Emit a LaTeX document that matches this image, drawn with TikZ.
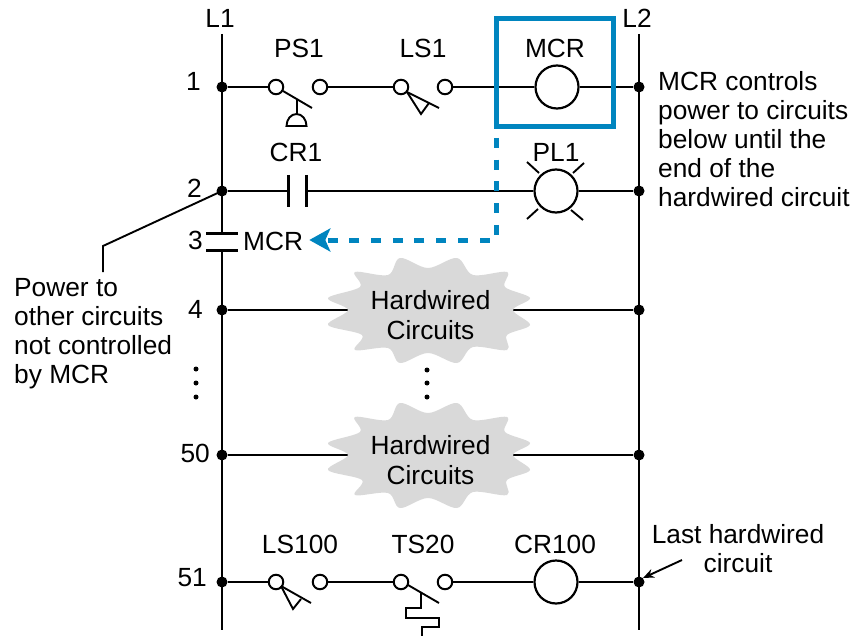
\documentclass[tikz,border=0pt]{standalone}
\usepackage{fontspec}
\setmainfont{Liberation Sans}
\usetikzlibrary{arrows.meta}
\definecolor{mcrblue}{HTML}{0085BF}
\definecolor{stargray}{HTML}{D9D9D9}
\pgfdeclarelayer{wires}
\pgfdeclarelayer{stars}
\pgfsetlayers{wires,stars,main}
\tikzset{
  wire/.style={line width=2.2pt,line join=miter},
  thin wire/.style={line width=1.9pt},
  lbl/.style={anchor=base,inner sep=0pt,font=\fontsize{26.3}{29}\selectfont},
  para/.style={anchor=north west,inner sep=0pt,align=left,font=\fontsize{26.3}{29}\selectfont},
  hwtext/.style={inner sep=0pt,align=center,font=\fontsize{26.3}{29.5}\selectfont},
  junction/.style={circle,fill=black,inner sep=0pt,minimum size=11pt},
  term/.style={circle,draw,line width=2pt,fill=white,inner sep=0pt,minimum size=14.5pt},
  coilc/.style={circle,draw,line width=2.2pt,fill=white,inner sep=0pt,minimum size=43pt},
  tinydot/.style={circle,fill=black,inner sep=0pt,minimum size=5pt},
  plate/.style={line width=3pt},
}
\newcommand{\hwstar}[2]{%
  \begin{pgfonlayer}{stars}
  \fill[stargray,shift={(#1,#2)}] plot[smooth cycle,tension=0.55] coordinates {
    (-27,-52) (1,-42) (30,-52) (46,-35) (80,-38) (78,-23) (103,-12) (86,0)
    (103,15) (80,25) (80,40) (46,37) (30,53) (1,43) (-27,53) (-39,38)
    (-72,40) (-65,25) (-99,15) (-79,0) (-99,-12) (-67,-23) (-72,-38) (-39,-35)};
  \end{pgfonlayer}}
\begin{document}
\begin{tikzpicture}[x=1pt,y=-1pt]
\useasboundingbox (0,0) rectangle (858,636);
\clip (0,0) rectangle (858,636);

% rails
\coordinate (l1top) at (222,34);
\coordinate (l1plateA) at (222,233);
\coordinate (l1plateB) at (222,250);
\coordinate (l1bot) at (222,630);
\coordinate (l2top) at (639,34);
\coordinate (l2bot) at (639,630);
\draw[wire] (l1top) -- (l1plateA);
\draw[wire] (l1plateB) -- (l1bot);
\draw[wire] (l2top) -- (l2bot);

% junctions
\node[junction] (a1) at (222,87) {};
\node[junction] (a2) at (222,191) {};
\node[junction] (a4) at (222,310) {};
\node[junction] (a50) at (222,455) {};
\node[junction] (a51) at (222,582) {};
\node[junction] (b1) at (639,87) {};
\node[junction] (b2) at (639,191) {};
\node[junction] (b4) at (639,310) {};
\node[junction] (b50) at (639,455) {};
\node[junction] (b51) at (639,582) {};

% rung 1
\node[term] (ps1a) at (276,87) {};
\node[term] (ps1b) at (320,87) {};
\node[term] (ls1a) at (401,87) {};
\node[term] (ls1b) at (445,87) {};
\node[coilc] (mcrcoil) at (557,87) {};
\draw[wire] (a1) -- (ps1a);
\draw[wire] (ps1b) -- (ls1a);
\draw[wire] (ls1b) -- (mcrcoil);
\draw[wire] (mcrcoil) -- (b1);
% PS1 operator
\draw[thin wire] (283,91) -- (312,108);
\draw[thin wire] (297,99) -- (297,114);
\draw[thin wire] (286.5,126) arc[start angle=180,end angle=360,x radius=10,y radius=12] -- cycle;
% LS1 operator
\draw[thin wire] (407,92) -- (439,108);
\draw[thin wire,line join=miter] (407,92) -- (421,114) -- (429,103);

% rung 2
\coordinate (cr1l) at (288,191);
\coordinate (cr1r) at (306,191);
\node[coilc] (pl1) at (556,191) {};
\draw[wire] (a2) -- (cr1l);
\draw[wire] (cr1r) -- (pl1);
\draw[wire] (pl1) -- (b2);
\draw[plate] (288,175) -- (288,207);
\draw[plate] (306,175) -- (306,207);
\draw[thin wire] (527,162) -- (539,173);
\draw[thin wire] (584,163) -- (573,173);
\draw[thin wire] (527,219) -- (538,209);
\draw[thin wire] (583,220) -- (571,210);

% MCR contact plates
\draw[plate] (206,233) -- (238,233);
\draw[plate] (206,250) -- (238,250);

% leader
\coordinate (leadbend) at (103,246);
\coordinate (leadend) at (103,272);
\draw[thin wire] (a2.center) -- (leadbend) -- (leadend);

% hardwired circuits
\hwstar{427}{310}
\hwstar{427}{455}
\node[hwtext] (hw1) at (430.5,315) {Hardwired\\Circuits};
\node[hwtext] (hw2) at (430.5,460) {Hardwired\\Circuits};
\begin{pgfonlayer}{wires}
\draw[wire] (a4) -- (b4);
\draw[wire] (a50) -- (b50);
\end{pgfonlayer}

% rung 51
\node[term] (ls100a) at (276,582) {};
\node[term] (ls100b) at (320,582) {};
\node[term] (ts20a) at (401,582) {};
\node[term] (ts20b) at (445,582) {};
\node[coilc] (cr100) at (556,582) {};
\draw[wire] (a51) -- (ls100a);
\draw[wire] (ls100b) -- (ts20a);
\draw[wire] (ts20b) -- (cr100);
\draw[wire] (cr100) -- (b51);
\draw[thin wire] (281,586) -- (311,603);
\draw[thin wire,line join=miter] (281,586) -- (293,609) -- (301,599);
\draw[thin wire] (408,585) -- (439,603);
\draw[thin wire,line join=miter] (421,593) -- (421,608) -- (406,608) -- (406,618) -- (439,618) -- (439,627) -- (422,627) -- (422,640);

% MCR box and control link
\node[draw=mcrblue,line width=5pt,inner sep=0pt,minimum width=117pt,minimum height=108pt] (mcrbox) at (554.5,73) {};
\node[lbl] (lblmcr) at (555,58) {MCR};
\coordinate (dashstart) at (496,138);
\coordinate (dashbend) at (496,240);
\node[lbl,anchor=base west] (mcr3) at (243,250) {MCR};
\draw[mcrblue,line width=5pt,dash pattern=on 10pt off 11.7pt,
      -{Stealth[length=21pt,width=23pt,inset=5pt]}]
  (dashstart) -- (dashbend) -- ([xshift=6pt]mcr3.east |- dashbend);

% dots
\node[tinydot] (d1) at (196,369) {};
\node[tinydot] (d2) at (196,383) {};
\node[tinydot] (d3) at (196,397) {};
\node[tinydot] (d4) at (427,370) {};
\node[tinydot] (d5) at (427,383) {};
\node[tinydot] (d6) at (427,397) {};

% labels
\node[lbl] (tl1) at (220,28) {L1};
\node[lbl] (tl2) at (637,28) {L2};
\node[lbl] (tps1) at (299,58) {PS1};
\node[lbl] (tls1) at (423,58) {LS1};
\node[lbl] (tcr1) at (296,162) {CR1};
\node[lbl] (tpl1) at (556,162) {PL1};
\node[lbl] (tls100) at (300,553) {LS100};
\node[lbl] (tts20) at (423,553) {TS20};
\node[lbl] (tcr100) at (555,553) {CR100};
\node[lbl,anchor=base east] (n1) at (201,91) {1};
\node[lbl,anchor=base east] (n2) at (202,197) {2};
\node[lbl,anchor=base east] (n3) at (203,249) {3};
\node[lbl,anchor=base east] (n4) at (203,318) {4};
\node[lbl,anchor=base east] (n50) at (210,462) {50};
\node[lbl,anchor=base east] (n51) at (207,586) {51};

\node[para] (rtext) at (658,71) {MCR controls\\power to circuits\\below until the\\end of the\\hardwired circuit};
\node[para] (ltext) at (14,278) {Power to\\other circuits\\not controlled\\by MCR};
\node[lbl,align=center,anchor=north] (lasttext) at (738,524) {Last hardwired\\circuit};
\coordinate (lastfrom) at (682,560);
\draw[line width=1.9pt,-{Stealth[length=11pt,width=9pt]}] (lastfrom) -- (b51.north east);
\end{tikzpicture}
\end{document}
